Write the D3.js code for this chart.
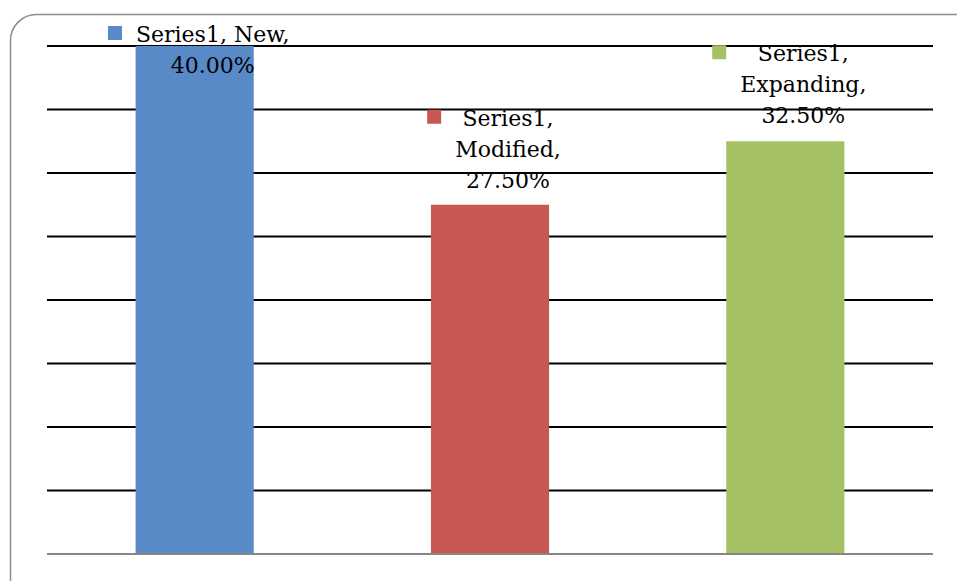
<!DOCTYPE html>
<html>
<head>
<meta charset="utf-8">
<script src="https://cdn.jsdelivr.net/npm/d3@7"></script>
<style>
  body { margin: 0; background: #fff; }
</style>
</head>
<body>
<div id="chart"></div>
<script>
// data
const categories = ["New", "Modified", "Expanding"];
const values = [40.0, 27.5, 32.5];
const seriesName = "Series1";
const colors = ["#588AC7", "#C85651", "#A4C263"];
const gridTicks = [0, 5, 10, 15, 20, 25, 30, 35, 40];

const W = 957, H = 581;
const margin = {top: 46, right: 24, bottom: 27, left: 47},
      width = W - margin.left - margin.right,
      height = H - margin.top - margin.bottom;

const svg = d3.select("#chart")
  .append("svg")
    .attr("width", W)
    .attr("height", H);

// rounded chart frame
svg.append("rect")
  .attr("x", 10.5).attr("y", 14.5)
  .attr("width", 970).attr("height", 590)
  .attr("rx", 26)
  .attr("fill", "none")
  .attr("stroke", "#8c8c8c")
  .attr("stroke-width", 1.5);

const g = svg.append("g")
  .attr("transform", `translate(${margin.left},${margin.top})`);

const x = d3.scaleBand()
  .domain(categories)
  .range([0, width])
  .paddingInner(0.6)
  .paddingOuter(0.3);

const y = d3.scaleLinear()
  .domain([0, 40])
  .range([height, 0]);

// gridlines
g.selectAll(".grid")
  .data(gridTicks.filter(d => d > 0))
  .join("line")
    .attr("x1", 0).attr("x2", width)
    .attr("y1", d => y(d)).attr("y2", d => y(d))
    .attr("stroke", "#000")
    .attr("stroke-width", 2);

// bars
g.selectAll(".bar")
  .data(values)
  .join("rect")
    .attr("x", (d, i) => x(categories[i]))
    .attr("y", d => y(d))
    .attr("width", x.bandwidth())
    .attr("height", d => height - y(d))
    .attr("fill", (d, i) => colors[i]);

// baseline
g.append("line")
  .attr("x1", 0).attr("x2", width)
  .attr("y1", y(0)).attr("y2", y(0))
  .attr("stroke", "#868686")
  .attr("stroke-width", 2);

// data labels
const font = "'DejaVu Serif', 'Liberation Serif', serif";
const lineH = 31;
const labelLines = [
  [`${seriesName}, ${categories[0]},`, `${values[0].toFixed(2)}%`],
  [`${seriesName},`, `${categories[1]},`, `${values[1].toFixed(2)}%`],
  [`${seriesName},`, `${categories[2]},`, `${values[2].toFixed(2)}%`]
];
// first-line baseline offset above bar top
const labelTop = [4, 79, 80];

labelLines.forEach((lines, i) => {
  const cx = x(categories[i]) + x.bandwidth() / 2 + 18;
  const base = y(values[i]) - labelTop[i];
  const lg = g.append("g");
  let maxW = 0;
  lines.forEach((t, k) => {
    const tx = lg.append("text")
      .attr("x", cx)
      .attr("y", base + k * lineH)
      .attr("text-anchor", "middle")
      .attr("font-family", font)
      .attr("font-size", 22)
      .attr("fill", "#000")
      .text(t);
    maxW = Math.max(maxW, tx.node().getComputedTextLength());
  });
  // legend key marker left of the label block
  lg.append("rect")
    .attr("x", cx - maxW / 2 - 28)
    .attr("y", base - 16)
    .attr("width", 14).attr("height", 14)
    .attr("fill", colors[i]);
});
</script>
</body>
</html>
